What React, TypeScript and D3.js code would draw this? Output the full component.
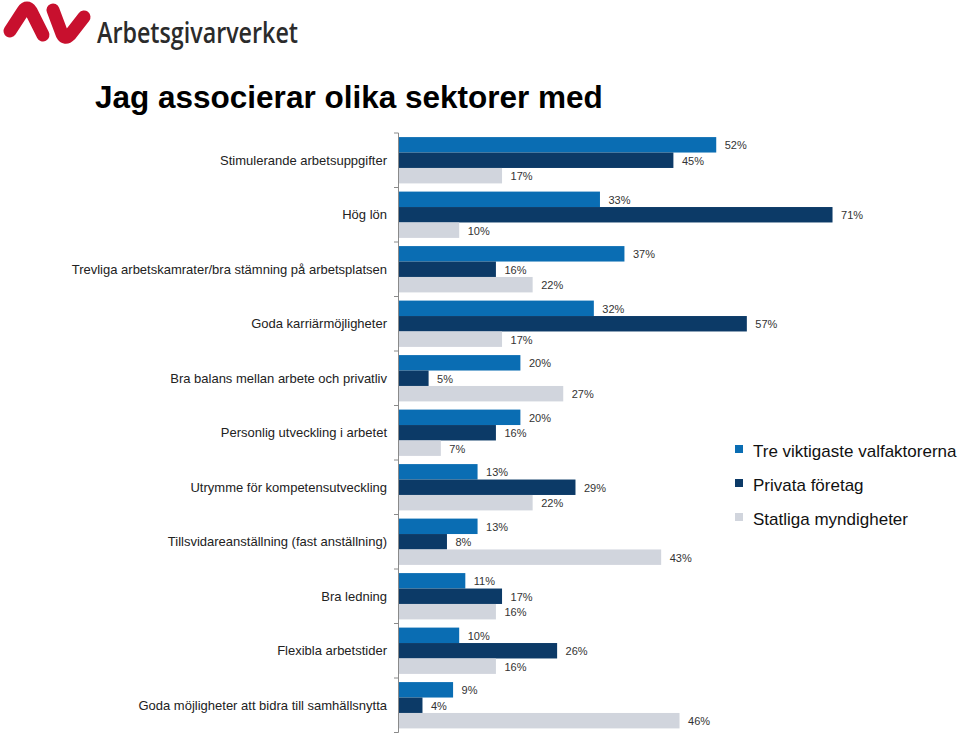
import React from "react";
import * as d3 from "d3";

const categories = [
  "Stimulerande arbetsuppgifter",
  "Hög lön",
  "Trevliga arbetskamrater/bra stämning på arbetsplatsen",
  "Goda karriärmöjligheter",
  "Bra balans mellan arbete och privatliv",
  "Personlig utveckling i arbetet",
  "Utrymme för kompetensutveckling",
  "Tillsvidareanställning (fast anställning)",
  "Bra ledning",
  "Flexibla arbetstider",
  "Goda möjligheter att bidra till samhällsnytta",
];
const seriesNames = ["Tre viktigaste valfaktorerna", "Privata företag", "Statliga myndigheter"];
const treViktigaste = [52, 33, 37, 32, 20, 20, 13, 13, 11, 10, 9];
const privataForetag = [45, 71, 16, 57, 5, 16, 29, 8, 17, 26, 4];
const statligaMyndigheter = [17, 10, 22, 17, 27, 7, 22, 43, 16, 16, 46];
const colors = ["#0a6db3", "#0c3a67", "#d1d5dd"];

const W = 960;
const H = 733;
const FONT = "Arial, 'Liberation Sans', sans-serif";

export default function App() {
  const series = [treViktigaste, privataForetag, statligaMyndigheter];
  const x = d3.scaleLinear().domain([0, 100]).range([398, 398 + 612]);
  const y = d3.scaleBand<string>().domain(categories).range([133, 732.5]).paddingInner(0).paddingOuter(0);
  const inner = d3
    .scaleBand<number>()
    .domain([0, 1, 2])
    .range([0, y.bandwidth()])
    .paddingOuter(0.265)
    .paddingInner(0);

  const ticks = categories.map((c) => y(c)!).concat([y.range()[1]]);

  return (
    <svg
      width={W}
      height={H}
      style={{ position: "absolute", left: 0, top: 0, background: "#fff" }}
      fontFamily={FONT}
    >
      <rect width={W} height={H} fill="#fff" />
      {/* logo */}
      <g fill="none" stroke="#c8102e" strokeWidth={13} strokeLinecap="round" strokeLinejoin="round">
        <path d="M10,31 L23,11 Q27,5 31,11 L43,35" />
        <path d="M53,10 L62,34 Q65,40 70,35 L84,17" />
      </g>
      <text
        x={97}
        y={43}
        fontFamily="'Open Sans', 'DejaVu Sans', sans-serif"
        fontSize={28}
        fontWeight={600}
        fill="#2b2b2b"
        textLength={201}
        lengthAdjust="spacingAndGlyphs"
      >
        Arbetsgivarverket
      </text>
      {/* title */}
      <text x={95} y={108} fontSize={31.5} fontWeight="bold" fill="#000">
        Jag associerar olika sektorer med
      </text>
      {/* bars */}
      {categories.map((c, i) => (
        <g key={c}>
          <text
            x={387}
            y={y(c)! + y.bandwidth() / 2}
            textAnchor="end"
            dominantBaseline="central"
            fontSize={13}
            fill="#222"
          >
            {c}
          </text>
          {series.map((s, j) => {
            const by = y(c)! + inner(j)!;
            return (
              <g key={j}>
                <rect
                  x={x(0)}
                  y={by}
                  width={x(s[i]) - x(0)}
                  height={inner.bandwidth()}
                  fill={colors[j]}
                />
                <text
                  x={x(s[i]) + 8.5}
                  y={by + inner.bandwidth() / 2 + 0.5}
                  dominantBaseline="central"
                  fontSize={11}
                  fill="#333"
                >
                  {s[i]}%
                </text>
              </g>
            );
          })}
        </g>
      ))}
      {/* axis */}
      <line x1={398.5} x2={398.5} y1={133} y2={732.5} stroke="#8a8a8a" strokeWidth={1} />
      {ticks.map((t, k) => (
        <line key={k} x1={394} x2={398.5} y1={t} y2={t} stroke="#8a8a8a" strokeWidth={1} />
      ))}
      {/* legend */}
      {seriesNames.map((n, j) => {
        const cy = [451, 485, 519][j];
        return (
          <g key={n}>
            <rect x={735} y={cy - 6} width={8} height={8} fill={colors[j]} />
            <text x={753} y={cy} dominantBaseline="central" fontSize={17} fill="#111">
              {n}
            </text>
          </g>
        );
      })}
    </svg>
  );
}
